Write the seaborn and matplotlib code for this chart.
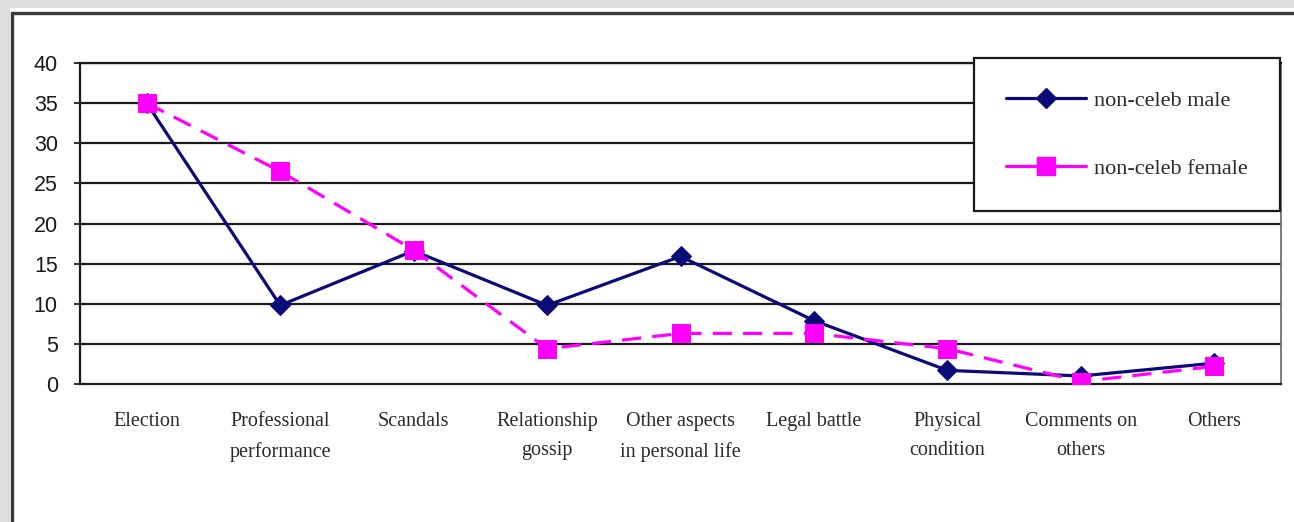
import matplotlib
matplotlib.use("Agg")
import matplotlib.pyplot as plt
import matplotlib.patches as mpatches
import matplotlib.lines as mlines
import seaborn as sns
import pandas as pd
import numpy as np

# Topics covered, and share (%) of coverage for each group
categories = [
    "Election", "Professional\nperformance", "Scandals", "Relationship\ngossip",
    "Other aspects\nin personal life", "Legal battle", "Physical\ncondition",
    "Comments on\nothers", "Others",
]
male_values = [35.0, 9.8, 16.6, 9.8, 15.9, 7.9, 1.7, 1.0, 2.6]
female_values = [35.0, 26.5, 16.7, 4.4, 6.3, 6.3, 4.4, 0.3, 2.2]
series_names = ["non-celeb male", "non-celeb female"]
y_ticks = [0, 5, 10, 15, 20, 25, 30, 35, 40]

sns.set_theme(style="white")
plt.rcParams["font.family"] = ["Liberation Serif", "DejaVu Serif"]

idx = np.arange(len(categories))
df = pd.DataFrame({
    "pos": np.concatenate([idx, idx]),
    "value": male_values + female_values,
    "group": [series_names[0]] * len(idx) + [series_names[1]] * len(idx),
})

W, H = 1294, 522
fig = plt.figure(figsize=(W / 100, H / 100), dpi=100, facecolor="white")

# outer window frame: light gray margin with a dark inner edge
fig.patches.append(mpatches.Rectangle((0, 1 - 8 / H), 1, 8 / H, transform=fig.transFigure,
                                      facecolor="#dedede", edgecolor="none", zorder=0))
fig.patches.append(mpatches.Rectangle((0, 0), 10 / W, 1, transform=fig.transFigure,
                                      facecolor="#dedede", edgecolor="none", zorder=0))
fig.lines.append(mlines.Line2D([12 / W, 1.01], [1 - 13 / H, 1 - 13 / H], transform=fig.transFigure,
                               color="#3a3a3a", lw=2.4))
fig.lines.append(mlines.Line2D([12 / W, 12 / W], [-0.01, 1 - 13 / H], transform=fig.transFigure,
                               color="#3a3a3a", lw=2.4))

ax = fig.add_axes([80 / W, 1 - 384 / H, (1281 - 80) / W, (384 - 63) / H])

palette = {series_names[0]: "#0a0a78", series_names[1]: "#ff00ff"}
markers = {series_names[0]: "D", series_names[1]: "s"}
dashes = {series_names[0]: "", series_names[1]: (6, 3.5)}

sns.lineplot(data=df, x="pos", y="value", hue="group", style="group",
             palette=palette, markers=markers, dashes=dashes,
             linewidth=2.3, ax=ax, legend=False, zorder=5)
for line in ax.lines:
    if line.get_marker() == "D":
        line.set_markersize(10)
        line.set_markeredgecolor("#0a0a78")
    else:
        line.set_markersize(12.5)
        line.set_markeredgecolor("#ff00ff")

ax.set_xlim(-0.5, len(categories) - 0.5)
ax.set_ylim(0, 40)
ax.set_yticks(y_ticks)
ax.set_yticklabels([str(v) for v in y_ticks], family="Liberation Sans", fontsize=15.5, color="#1a1a1a")
ax.set_xticks(idx)
ax.set_xticklabels(categories, fontsize=14.5, color="#2a2a2a", linespacing=1.75)
ax.set_xticks(idx[:-1] + 0.5, minor=True)
ax.tick_params(axis="x", which="major", length=0, pad=20)
ax.tick_params(axis="x", which="minor", length=7, width=1.3, direction="inout", color="#222")
ax.tick_params(axis="y", which="major", length=4, width=1.3, direction="out", color="#222", pad=12, left=True)
ax.set_xlabel("")
ax.set_ylabel("")

for v in y_ticks[1:]:
    ax.axhline(v, color="#1a1a1a", lw=1.6, zorder=1)
for side, sp in ax.spines.items():
    sp.set_visible(True)
    sp.set_color("#1a1a1a")
    sp.set_linewidth(1.6)
ax.spines["right"].set_color("#666666")
ax.spines["right"].set_linewidth(1.2)

handles = [
    mlines.Line2D([], [], color="#0a0a78", lw=2.3, marker="D", markersize=10),
    mlines.Line2D([], [], color="#ff00ff", lw=2.3, marker="s", markersize=12.5),
]
leg = fig.legend(handles, series_names, loc="upper right",
                 bbox_to_anchor=(1280 / W, 1 - 58 / H), bbox_transform=fig.transFigure,
                 fontsize=16, frameon=True, fancybox=False, shadow=False,
                 handlelength=3.6, handletextpad=0.35, labelspacing=2.15,
                 borderpad=1.45, borderaxespad=0)
leg.get_frame().set_edgecolor("#1a1a1a")
leg.get_frame().set_linewidth(1.6)
leg.get_frame().set_facecolor("white")
leg.get_frame().set_alpha(1)
for t in leg.get_texts():
    t.set_color("#2a2a2a")

fig.savefig("out.png", dpi=100, facecolor="white")
